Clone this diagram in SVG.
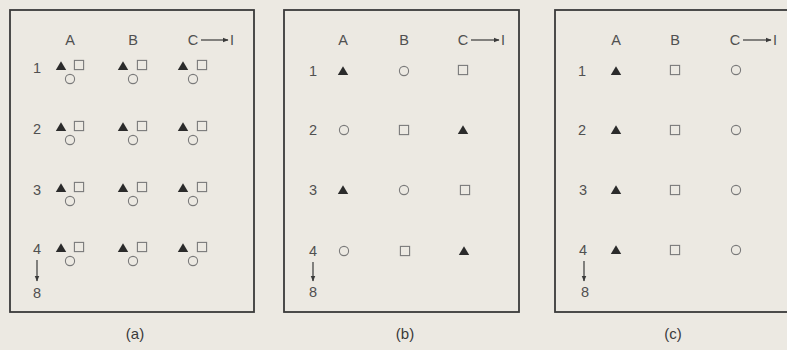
<svg xmlns="http://www.w3.org/2000/svg" xmlns:xlink="http://www.w3.org/1999/xlink" width="787" height="350" viewBox="0 0 787 350">
<style>
.t{font-family:"Liberation Sans",Arial,sans-serif;font-size:14.5px;fill:#505050;text-anchor:middle}
.cap{font-family:"Liberation Sans",Arial,sans-serif;font-size:15px;fill:#3a3a3a;text-anchor:middle}
.box{fill:none;stroke:#3a3a3a;stroke-width:1.8}
.ln{stroke:#3a3a3a;stroke-width:1.2;fill:none}
</style>
<defs>
<polygon id="tri" points="0,-4.8 5.2,4 -5.2,4" fill="#2b2b2b"/>
<rect id="sq" x="-4.6" y="-4.6" width="9.2" height="9.2" fill="none" stroke="#7a7a7a" stroke-width="1.1"/>
<circle id="ci" r="4.6" fill="none" stroke="#7a7a7a" stroke-width="1.1"/>
<marker id="ah" viewBox="0 0 10 10" refX="9" refY="5" markerWidth="6" markerHeight="6" orient="auto" markerUnits="userSpaceOnUse"><path d="M0,1 L10,5 L0,9 z" fill="#3a3a3a"/></marker>
</defs>
<rect width="787" height="350" fill="#ece9e2"/>

<g id="panel-a">
<rect class="box" x="10" y="10" width="244" height="302"/>
<text class="t" x="70" y="45">A</text><text class="t" x="133" y="45">B</text><text class="t" x="193" y="45">C</text><text class="t" x="232" y="45">I</text>
<text class="t" x="37" y="73">1</text><text class="t" x="37" y="134">2</text><text class="t" x="37" y="195">3</text><text class="t" x="37" y="254">4</text><text class="t" x="37" y="298">8</text>
<g id="a-r1"><use href="#tri" x="61" y="66"/><use href="#sq" x="79" y="65"/><use href="#ci" x="70" y="79"/><use href="#tri" x="123" y="66"/><use href="#sq" x="142" y="65"/><use href="#ci" x="133" y="79"/><use href="#tri" x="183" y="66"/><use href="#sq" x="202" y="65"/><use href="#ci" x="193" y="79"/></g>
<g id="a-r2"><use href="#tri" x="61" y="127"/><use href="#sq" x="79" y="126"/><use href="#ci" x="70" y="140"/><use href="#tri" x="123" y="127"/><use href="#sq" x="142" y="126"/><use href="#ci" x="133" y="140"/><use href="#tri" x="183" y="127"/><use href="#sq" x="202" y="126"/><use href="#ci" x="193" y="140"/></g>
<g id="a-r3"><use href="#tri" x="61" y="188"/><use href="#sq" x="79" y="187"/><use href="#ci" x="70" y="201"/><use href="#tri" x="123" y="188"/><use href="#sq" x="142" y="187"/><use href="#ci" x="133" y="201"/><use href="#tri" x="183" y="188"/><use href="#sq" x="202" y="187"/><use href="#ci" x="193" y="201"/></g>
<g id="a-r4"><use href="#tri" x="61" y="248"/><use href="#sq" x="79" y="247"/><use href="#ci" x="70" y="261"/><use href="#tri" x="123" y="248"/><use href="#sq" x="142" y="247"/><use href="#ci" x="133" y="261"/><use href="#tri" x="183" y="248"/><use href="#sq" x="202" y="247"/><use href="#ci" x="193" y="261"/></g>
<text class="cap" x="135" y="339">(a)</text>
</g>

<g id="panel-b">
<rect class="box" x="284" y="10" width="235" height="302"/>
<text class="t" x="343" y="45">A</text><text class="t" x="404" y="45">B</text><text class="t" x="463" y="45">C</text><text class="t" x="503" y="45">I</text>
<text class="t" x="313" y="76">1</text><text class="t" x="313" y="135">2</text><text class="t" x="313" y="195">3</text><text class="t" x="313" y="256">4</text><text class="t" x="313" y="297">8</text>
<g id="b-r1"><use href="#tri" x="343" y="71"/><use href="#ci" x="404" y="71"/><use href="#sq" x="463" y="70"/></g>
<g id="b-r2"><use href="#ci" x="344" y="130"/><use href="#sq" x="404" y="130"/><use href="#tri" x="463" y="130"/></g>
<g id="b-r3"><use href="#tri" x="343" y="190"/><use href="#ci" x="404" y="190"/><use href="#sq" x="465" y="190"/></g>
<g id="b-r4"><use href="#ci" x="344" y="251"/><use href="#sq" x="405" y="251"/><use href="#tri" x="464" y="251"/></g>
<text class="cap" x="405" y="339">(b)</text>
</g>

<g id="panel-c">
<rect class="box" x="555" y="10" width="240" height="302"/>
<text class="t" x="616" y="45">A</text><text class="t" x="675" y="45">B</text><text class="t" x="735" y="45">C</text><text class="t" x="775" y="45">I</text>
<text class="t" x="582" y="76">1</text><text class="t" x="582" y="135">2</text><text class="t" x="583" y="195">3</text><text class="t" x="583" y="255">4</text><text class="t" x="585" y="297">8</text>
<g id="c-r1"><use href="#tri" x="616" y="71"/><use href="#sq" x="675" y="70"/><use href="#ci" x="736" y="70"/></g>
<g id="c-r2"><use href="#tri" x="616" y="130"/><use href="#sq" x="675" y="130"/><use href="#ci" x="736" y="130"/></g>
<g id="c-r3"><use href="#tri" x="616" y="190"/><use href="#sq" x="675" y="190"/><use href="#ci" x="736" y="190"/></g>
<g id="c-r4"><use href="#tri" x="616" y="250"/><use href="#sq" x="675" y="250"/><use href="#ci" x="736" y="250"/></g>
<text class="cap" x="673" y="339">(c)</text>
</g>

<g id="connectors">
<line class="ln" x1="201" y1="40" x2="228" y2="40" marker-end="url(#ah)"/>
<line class="ln" x1="471" y1="40" x2="499" y2="40" marker-end="url(#ah)"/>
<line class="ln" x1="743" y1="40" x2="771" y2="40" marker-end="url(#ah)"/>
<line class="ln" x1="37" y1="260" x2="37" y2="281" marker-end="url(#ah)"/>
<line class="ln" x1="313" y1="262" x2="313" y2="281" marker-end="url(#ah)"/>
<line class="ln" x1="584" y1="261" x2="584" y2="281" marker-end="url(#ah)"/>
</g>
</svg>
